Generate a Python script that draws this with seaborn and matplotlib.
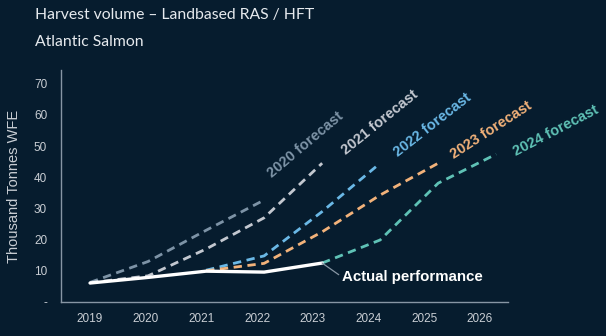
import numpy as np
import pandas as pd
import seaborn as sns
import matplotlib
matplotlib.use("Agg")
import matplotlib.pyplot as plt

# ---- data ----
years = ["2019", "2020", "2021", "2022", "2023", "2024", "2025", "2026"]

actual_years = ["2019", "2020", "2021", "2022", "2023"]
actual_vals = [6.1, 7.9, 9.9, 9.6, 12.5]

f2020_years = ["2019", "2020", "2021", "2022"]
f2020_vals = [6.3, 13.0, 23.0, 32.7]

f2021_years = ["2019", "2020", "2021", "2022", "2023"]
f2021_vals = [6.2, 8.4, 17.0, 27.0, 44.5]

f2022_years = ["2021", "2022", "2023", "2024"]
f2022_vals = [10.2, 14.8, 29.0, 44.5]

f2023_years = ["2021", "2022", "2023", "2024", "2025"]
f2023_vals = [10.0, 12.4, 22.5, 34.3, 44.5]

f2024_years = ["2023", "2024", "2025", "2026"]
f2024_vals = [12.5, 19.9, 38.1, 47.4]

yticks = [0, 10, 20, 30, 40, 50, 60, 70]
ytick_labels = ["-", "10", "20", "30", "40", "50", "60", "70"]

bg = "#061c2e"
sns.set_theme(style="dark")
plt.rcParams["font.family"] = ["Liberation Sans", "DejaVu Sans"]

fig = plt.figure(figsize=(6.06, 3.36), dpi=100, facecolor=bg)
ax = fig.add_axes([0.1007, 0.101, 0.7373, 0.691])
ax.set_facecolor(bg)

pos = {y: i for i, y in enumerate(years)}

series = [
    (f2020_years, f2020_vals, "#7d93a6", "2020 forecast"),
    (f2021_years, f2021_vals, "#c3c8d0", "2021 forecast"),
    (f2022_years, f2022_vals, "#6ab8e6", "2022 forecast"),
    (f2023_years, f2023_vals, "#f2b27a", "2023 forecast"),
    (f2024_years, f2024_vals, "#5fc2b6", "2024 forecast"),
]
for yrs, vals, col, name in series:
    df = pd.DataFrame({"x": [pos[y] for y in yrs], "y": vals})
    sns.lineplot(data=df, x="x", y="y", ax=ax, color=col, lw=2.0,
                 dashes=False, linestyle=(0, (3, 2)), zorder=2)

dfa = pd.DataFrame({"x": [pos[y] for y in actual_years], "y": actual_vals})
sns.lineplot(data=dfa, x="x", y="y", ax=ax, color="white", lw=2.4, zorder=3)

ax.set_xlim(-0.5, 7.2)
ax.set_ylim(0, 74.4)
ax.set_yticks(yticks)
ax.set_yticklabels(ytick_labels)
ax.set_xticks(np.arange(len(years)) * 0.96)
ax.set_xticklabels(years)
ax.tick_params(axis="both", length=0, colors="#c9ced4", labelsize=8.5)
ax.tick_params(axis="y", pad=10)
ax.tick_params(axis="x", pad=8)
ax.set_xlabel("")
ax.set_ylabel("Thousand Tonnes WFE", color="#c9ced4", fontsize=10.5, labelpad=9)
ax.grid(False)
for s in ["top", "right"]:
    ax.spines[s].set_visible(False)
for s in ["left", "bottom"]:
    ax.spines[s].set_visible(True)
    ax.spines[s].set_color("#8796a4")
    ax.spines[s].set_linewidth(1.0)

# rotated series labels
labels = [
    ("2020 forecast", 305, 145, 40, "#7d93a6"),
    ("2021 forecast", 380, 122, 39, "#c3c8d0"),
    ("2022 forecast", 433, 125, 38, "#6ab8e6"),
    ("2023 forecast", 491, 130, 33, "#f2b27a"),
    ("2024 forecast", 556, 131, 27.5, "#5fc2b6"),
]
W, H = 606, 336
for txt, px, py, ang, col in labels:
    fig.text(px / W, 1 - py / H, txt, color=col, rotation=ang, fontsize=10.5,
             fontweight="bold", ha="center", va="center", rotation_mode="anchor")

# actual performance annotation
ax.annotate("Actual performance", xy=(pos["2023"], actual_vals[-1]),
            xytext=(342 / W, 1 - 277 / H), textcoords="figure fraction",
            color="white", fontsize=10.8, fontweight="bold", ha="left", va="center",
            arrowprops=dict(arrowstyle="-", color="#8796a4", lw=0.9,
                            shrinkA=0, shrinkB=0, relpos=(0, 0.5)))

fig.text(35 / W, 1 - 15 / H, "Harvest volume \u2013 Landbased RAS / HFT",
         color="#e6eaee", fontsize=11.3, family=["Lato", "DejaVu Sans"],
         ha="left", va="center")
fig.text(35 / W, 1 - 42 / H, "Atlantic Salmon",
         color="#e6eaee", fontsize=11.3, family=["Lato", "DejaVu Sans"],
         ha="left", va="center")

fig.savefig("out.png", dpi=100, facecolor=bg)
